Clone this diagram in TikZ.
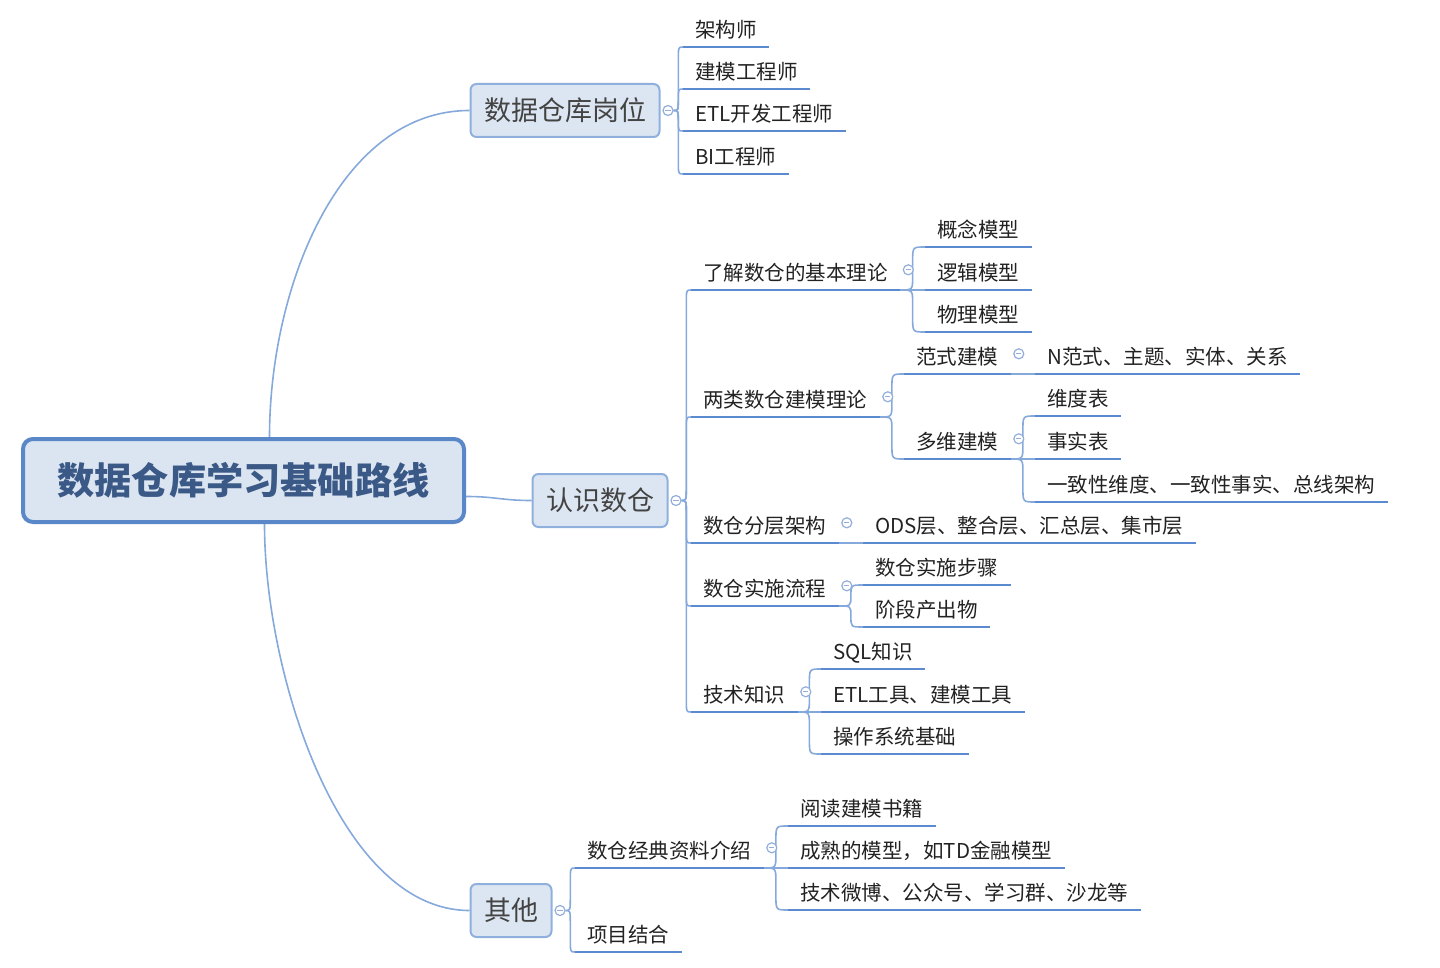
\documentclass[tikz,border=0pt]{standalone}
\usepackage{fontspec}
\setmainfont{Noto Sans CJK SC}
\usetikzlibrary{positioning, calc, backgrounds}

\definecolor{lineblue}{HTML}{5B8AD0}
\definecolor{curveblue}{HTML}{86A9DC}
\definecolor{foldcol}{HTML}{93AEDA}
\definecolor{rootfill}{HTML}{DBE5F1}
\definecolor{rootdraw}{HTML}{5A87C8}
\definecolor{roottext}{HTML}{3B5986}
\definecolor{boxfill}{HTML}{DCE6F2}
\definecolor{boxdraw}{HTML}{8FB0DC}
\definecolor{textdark}{HTML}{222222}

\tikzset{
  leaf/.style={anchor=south west, inner xsep=6pt, inner ysep=2.5pt, text height=9.25pt, text depth=2.25pt,
    font=\fontsize{10.25}{12}\selectfont, text=textdark},
  topicbox/.style={anchor=west, draw=boxdraw, fill=boxfill, line width=1pt, rounded corners=3pt,
    inner xsep=6.75pt, minimum height=26.5pt, font=\fontsize{13.5}{16}\selectfont, text=textdark!85},
  rootbox/.style={draw=rootdraw, fill=rootfill, line width=2pt, rounded corners=5pt,
    minimum width=220.5pt, minimum height=41.5pt, font=\fontsize{18.6}{22}\selectfont\bfseries, text=roottext},
  fold/.style={circle, draw=foldcol, fill=white, line width=0.6pt, inner sep=0pt, minimum size=5pt,
    path picture={\draw[foldcol, line width=0.6pt] ([xshift=-1.3pt]path picture bounding box.center) -- ([xshift=1.3pt]path picture bounding box.center);}},
  uline/.style={lineblue, line width=1.2pt},
  branch/.style={curveblue, line width=0.8pt},
  rootlink/.style={curveblue, line width=0.8pt},
  elbow/.style={to path={let \p1=(\tikztostart), \p2=(\tikztotarget),
    \n1={min(max(0.5*(\y2-\y1),-7pt),7pt)} in
    .. controls ({0.5*\x1+0.5*\x2},\y1) .. ({0.5*\x1+0.5*\x2},{\y1+\n1})
    -- ({0.5*\x1+0.5*\x2},{\y2-\n1}) .. controls ({0.5*\x1+0.5*\x2},\y2) .. (\tikztotarget)}}
}

\begin{document}
\begin{tikzpicture}[x=0.5pt, y=-0.5pt]
  \useasboundingbox (0,0) rectangle (1440,968);

  % Root and main topics
  \node[rootbox] (root) at (243.5,480.5) {数据仓库学习基础路线};
  \node[topicbox] (job) at (469.5,110.5) {数据仓库岗位};
  \node[topicbox] (know) at (531.5,500.5) {认识数仓};
  \node[topicbox] (misc) at (469.5,910.5) {其他};

  % Fold markers on the topics
  \node[fold] (fjob) at ($(job.east)+(7.5,0)$) {};
  \node[fold] (fknow) at ($(know.east)+(7.5,0)$) {};
  \node[fold] (fmisc) at ($(misc.east)+(7.5,0)$) {};

  % Jobs
  \node[leaf] (j1) at (683,47) {架构师};
  \node[leaf] (j2) at (683,89) {建模工程师};
  \node[leaf] (j3) at (683,131) {ETL开发工程师};
  \node[leaf] (j4) at (683,174) {BI工程师};

  % Knowing the warehouse
  \node[leaf] (k1) at (691,290) {了解数仓的基本理论};
  \node[leaf] (k2) at (691,417) {两类数仓建模理论};
  \node[leaf] (k3) at (691,543) {数仓分层架构};
  \node[leaf] (k4) at (691,606) {数仓实施流程};
  \node[leaf] (k5) at (691,712) {技术知识};

  \node[leaf] (k11) at (925,247) {概念模型};
  \node[leaf] (k12) at (925,290) {逻辑模型};
  \node[leaf] (k13) at (925,332) {物理模型};

  \node[leaf] (k21) at (904,374) {范式建模};
  \node[leaf] (k22) at (904,459) {多维建模};
  \node[leaf] (k211) at (1035,374) {N范式、主题、实体、关系};
  \node[leaf] (k221) at (1035,416) {维度表};
  \node[leaf] (k222) at (1035,459) {事实表};
  \node[leaf] (k223) at (1035,502) {一致性维度、一致性事实、总线架构};

  \node[leaf] (k31) at (863,543) {ODS层、整合层、汇总层、集市层};

  \node[leaf] (k41) at (863,585) {数仓实施步骤};
  \node[leaf] (k42) at (863,627) {阶段产出物};

  \node[leaf] (k51) at (821,669) {SQL知识};
  \node[leaf] (k52) at (821,712) {ETL工具、建模工具};
  \node[leaf] (k53) at (821,754) {操作系统基础};

  % Others
  \node[leaf] (o1) at (575,868) {数仓经典资料介绍};
  \node[leaf] (o2) at (575,952) {项目结合};
  \node[leaf] (o11) at (788,826) {阅读建模书籍};
  \node[leaf] (o12) at (788,868) {成熟的模型，如TD金融模型};
  \node[leaf] (o13) at (788,910) {技术微博、公众号、学习群、沙龙等};

  % Fold markers on sub topics
  \foreach \nd in {k1,k2,k3,k4,k5,k21,k22,o1}
    \node[fold] (f\nd) at ($(\nd.east)+(8,-3.3)$) {};

  % Underlines
  \foreach \nd in {j1,j2,j3,j4,k1,k2,k3,k4,k5,k11,k12,k13,k21,k22,k211,k221,k222,k223,
                   k31,k41,k42,k51,k52,k53,o1,o2,o11,o12,o13}
    \draw[uline] (\nd.south west) -- (\nd.south east);

  % Connectors
  \begin{scope}[on background layer]
    \draw[rootlink] ([xshift=13pt]root.north) .. controls +(0,-150) and +(-130,0) .. (job.west);
    \draw[rootlink] ([xshift=10.5pt]root.south) .. controls +(0,150) and +(-130,0) .. (misc.west);
    \draw[rootlink] ([yshift=-8pt]root.east) .. controls +(30,0) and +(-30,0) .. (know.west);

    \foreach \kid in {j1,j2,j3,j4}
      \draw[branch] (fjob.east) to[elbow] (\kid.south west);
    \foreach \kid in {k1,k2,k3,k4,k5}
      \draw[branch] (fknow.east) to[elbow] (\kid.south west);
    \foreach \kid in {o1,o2}
      \draw[branch] (fmisc.east) to[elbow] (\kid.south west);

    \foreach \kid in {k11,k12,k13}
      \draw[branch] (k1.south east) to[elbow] (\kid.south west);
    \foreach \kid in {k21,k22}
      \draw[branch] (k2.south east) to[elbow] (\kid.south west);
    \draw[branch] (k21.south east) to[elbow] (k211.south west);
    \foreach \kid in {k221,k222,k223}
      \draw[branch] (k22.south east) to[elbow] (\kid.south west);
    \draw[branch] (k3.south east) to[elbow] (k31.south west);
    \foreach \kid in {k41,k42}
      \draw[branch] (k4.south east) to[elbow] (\kid.south west);
    \foreach \kid in {k51,k52,k53}
      \draw[branch] (k5.south east) to[elbow] (\kid.south west);
    \foreach \kid in {o11,o12,o13}
      \draw[branch] (o1.south east) to[elbow] (\kid.south west);
  \end{scope}
\end{tikzpicture}
\end{document}
